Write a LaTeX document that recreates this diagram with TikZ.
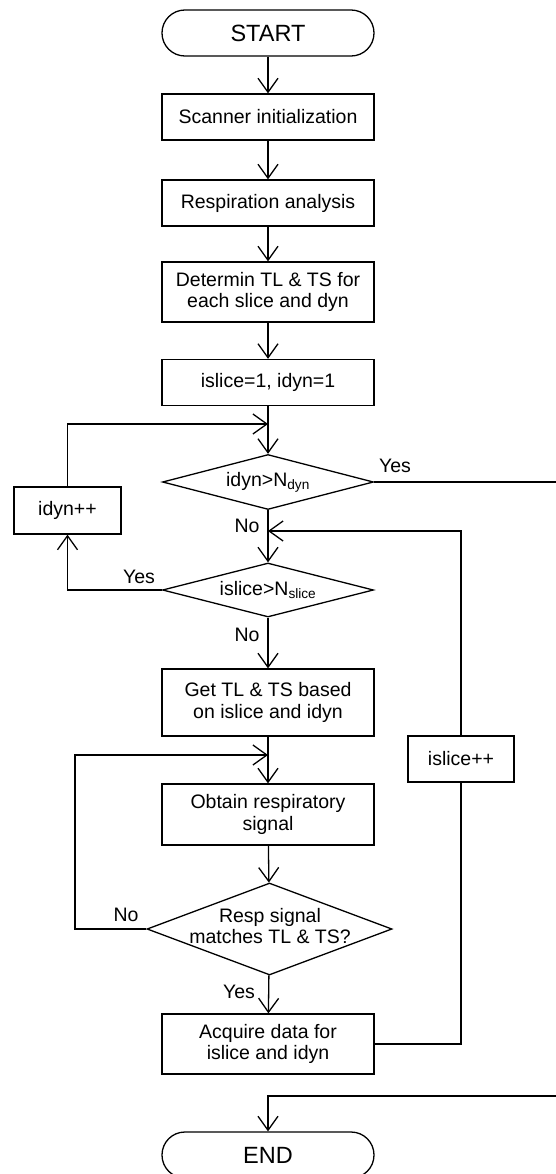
\documentclass[tikz,border=0pt]{standalone}
\usepackage{fontspec}
\setmainfont{Liberation Sans}
\usetikzlibrary{positioning, calc, shapes.geometric, arrows.meta}

\tikzset{
	flow/.style={-{Straight Barb[length=14pt,width=20pt]}},
	terminal/.style={draw, rectangle, rounded corners=22.9pt, minimum width=212pt, minimum height=46pt, font=\fontsize{23.5}{28}\selectfont},
	process/.style={draw, rectangle, minimum width=212pt, minimum height=46pt, align=center, font=\fontsize{19.5}{21.5}\selectfont},
	decision/.style={draw, diamond, aspect=3.84, inner sep=0pt, minimum width=211pt, minimum height=55pt, align=center, font=\fontsize{19.5}{21.5}\selectfont},
	tag/.style={inner sep=0pt, font=\fontsize{19.5}{21.5}\selectfont}
}

\begin{document}
\begin{tikzpicture}[x=1pt, y=-1pt, line width=1.3pt]
			\clip (0,0) rectangle (556,1174);
			
			\node[terminal] (start)    at (268, 33)   {START};
			\node[process]  (scan)     at (268, 117)  {Scanner initialization};
			\node[process]  (resp)     at (268, 203)  {Respiration analysis};
			\node[process, minimum height=60pt] (determ) at (268, 292) {Determin TL \& TS for\\each slice and dyn};
			\node[process]  (init)     at (268, 382.5) {islice=1, idyn=1};
			\node[decision] (dyn)      at (268, 482)  {idyn>N\textsubscript{dyn}};
			\node[process, minimum width=107pt, minimum height=47pt] (idynpp) at (67.5, 510.5) {idyn++};
			\node[decision, minimum height=54pt] (slice) at (268, 590) {islice>N\textsubscript{slice}};
			\node[process, minimum height=67pt] (get) at (268, 702.5) {Get TL \& TS based\\on islice and idyn};
			\node[process, minimum height=61pt] (obtain) at (268, 814.5) {Obtain respiratory\\signal};
			\node[process, minimum width=106pt] (isliceinc) at (461, 759) {islice++};
			\node[decision, aspect=2.66, minimum width=245pt, minimum height=92pt] (match) at (269.5, 929) {};
			\node[tag, align=center] (matchtext) at (270, 926) {Resp signal\\matches TL \& TS?};
			\node[process, minimum height=60pt] (acquire) at (268, 1044) {Acquire data for\\islice and idyn};
			\node[terminal] (end)      at (268, 1155) {END};
			
			\coordinate (jdyn)   at (268, 424);
			\coordinate (jslice) at (268, 531);
			\coordinate (jobt)   at (268, 755);
			\coordinate (jend)   at (268, 1096);
			\coordinate (lmatch) at (75, 929);
			\coordinate (rtop)   at (560, 482);
			
			\draw[flow] (start) -- (scan);
			\draw[flow] (scan) -- (resp);
			\draw[flow] (resp) -- (determ);
			\draw[flow] (determ) -- (init);
			\draw[flow] (init) -- (dyn);
			\draw[flow] (idynpp.north) |- (jdyn);
			\draw[flow] (dyn) -- (slice);
			\draw[flow] (slice.west) -| (idynpp.south);
			\draw[flow] (isliceinc.north) |- (jslice);
			\draw[flow] (slice) -- (get);
			\draw[flow] (get) -- (obtain);
			\draw[flow] (match.west) -- (lmatch) |- (jobt);
			\draw[flow] (obtain) -- (match);
			\draw[flow] (match) -- (acquire);
			\draw (acquire.east) -| (isliceinc.south);
			\draw[flow] (dyn.east) -- (rtop) |- (jend) -- (end.north);
			
			\node[tag] (yesdyn)   at (395, 466) {Yes};
			\node[tag] (nodyn)    at (247, 526) {No};
			\node[tag] (yesslice) at (139, 577) {Yes};
			\node[tag] (noslice)  at (247, 635) {No};
			\node[tag] (nomatch)  at (126, 915) {No};
			\node[tag] (yesmatch) at (239, 992) {Yes};
		\end{tikzpicture}
\end{document}
